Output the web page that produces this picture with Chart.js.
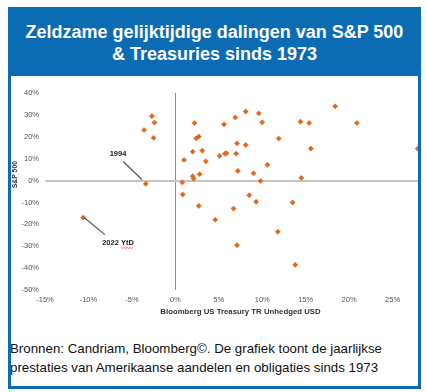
<!DOCTYPE html>
<html>
<head>
<meta charset="utf-8">
<script src="https://cdn.jsdelivr.net/npm/chart.js@4"></script>
<style>
  body { margin: 0; background: #fff; font-family: Arial, "Liberation Sans", sans-serif; }
  #card {
    position: absolute; left: 8px; top: 7px; width: 413px; height: 382px;
    box-sizing: border-box; border: 3px solid #0b6cb3; overflow: hidden; background: #fff;
  }
  #title {
    height: 66px; box-sizing: border-box; padding-top: 11px; background: #0b6cb3;
    color: #fff; font-weight: bold; font-size: 18px; line-height: 22px; text-align: center;
  }
  #chart { position: absolute; left: 0; top: 66px; }
  #source {
    position: absolute; left: -1px; top: 329px; color: #111;
    font-size: 13.3px; line-height: 19px; white-space: nowrap;
  }
</style>
</head>
<body>
<div id="card">
  <div id="title">Zeldzame gelijktijdige dalingen van S&amp;P 500<br>&amp; Treasuries sinds 1973</div>
  <canvas id="chart" width="430" height="245"></canvas>
  <div id="source">Bronnen: Candriam, Bloomberg©. De grafiek toont de jaarlijkse<br>prestaties van Amerikaanse aandelen en obligaties sinds 1973</div>
</div>
<script>
// --- Data (annual returns, %) ---
const treasuryReturns = [
  -2.7, -2.4, -3.6, -2.5, -3.4, 2.2, 2.4, 2.7, 1.0, 2.0,
  3.1, 3.5, 0.8, 0.85, 2.0, 2.1, 2.8, 2.7, 5.6, 6.9,
  8.1, 9.6, 10.0, 11.9, 14.4, 15.4, 15.6, 18.4, 20.9, 27.9,
  5.1, 5.7, 5.9, 7.0, 7.1, 8.1, 10.6, 7.2, 9.0, 9.8,
  14.5, 8.5, 9.3, 13.5, 6.7, -10.6, 4.6, 11.8, 7.1, 13.8
];
const sp500Returns = [
  29.4, 26.5, 23.1, 19.5, -1.5, 26.3, 19.3, 20.1, 9.4, 13.2,
  13.7, 8.8, -0.8, -6.4, 2.0, 0.9, 2.9, -11.6, 25.7, 28.8,
  31.5, 30.7, 26.6, 19.2, 26.9, 26.3, 14.6, 33.9, 26.3, 14.6,
  11.3, 12.3, 12.5, 12.3, 17.0, 16.3, 7.2, 4.4, 3.3, -0.2,
  1.2, -6.7, -9.7, -10.0, -12.8, -16.9, -17.9, -23.4, -29.5, -38.5
];
const xTicks = [-15, -10, -5, 0, 5, 10, 15, 20, 25, 30];
const yTicks = [40, 30, 20, 10, 0, -10, -20, -30, -40, -50];
const yTitle = 'S&P 500';
const yTitleAt = 2.7; // value the vertical axis title is centred on

// callouts: label text, label position, leader line (data coordinates)
const callouts = [
  { text: '1994', at: [-6.6, 12.3], from: [-6.0, 8.7], to: [-3.85, 0.5], squiggle: false },
  { text: '2022 YtD', at: [-6.6, -28.3], from: [-10.5, -16.9], to: [-8.1, -24.7], squiggle: true }
];

const BLUE = '#0b6cb3';
const ORANGE = '#e2671d';
const points = treasuryReturns.map((x, i) => ({ x: x, y: sp500Returns[i] }));

// --- Callouts + y title plugin ---
const calloutPlugin = {
  id: 'callouts',
  afterDatasetsDraw(chart) {
    const { ctx, scales: { x, y } } = chart;
    ctx.save();
    callouts.forEach(c => {
      ctx.strokeStyle = '#555';
      ctx.lineWidth = 1.2;
      ctx.beginPath();
      ctx.moveTo(x.getPixelForValue(c.from[0]), y.getPixelForValue(c.from[1]));
      ctx.lineTo(x.getPixelForValue(c.to[0]), y.getPixelForValue(c.to[1]));
      ctx.stroke();

      ctx.font = 'bold 7.5px Arial';
      ctx.fillStyle = '#222';
      ctx.textAlign = 'center';
      ctx.textBaseline = 'middle';
      const tx = x.getPixelForValue(c.at[0]);
      const ty = y.getPixelForValue(c.at[1]);
      ctx.fillText(c.text, tx, ty);

      if (c.squiggle) {
        const full = ctx.measureText(c.text).width;
        const word = ctx.measureText('YtD').width;
        const x1 = tx + full / 2;
        const x0 = x1 - word;
        ctx.strokeStyle = '#e03030';
        ctx.lineWidth = 0.7;
        ctx.beginPath();
        for (let px = x0, k = 0; px <= x1; px += 1.5, k++) {
          const py = ty + 5 + (k % 2 ? 0.9 : 0);
          if (k === 0) ctx.moveTo(px, py); else ctx.lineTo(px, py);
        }
        ctx.stroke();
      }
    });

    // vertical axis title, drawn by hand so it sits where the original has it
    ctx.translate(y.left + 4, y.getPixelForValue(yTitleAt));
    ctx.rotate(-Math.PI / 2);
    ctx.font = 'bold 6.8px Arial';
    ctx.fillStyle = '#333';
    ctx.textAlign = 'center';
    ctx.textBaseline = 'middle';
    ctx.fillText(yTitle, 0, 0);
    ctx.restore();
  }
};

new Chart(document.getElementById('chart'), {
  type: 'scatter',
  data: {
    datasets: [{
      data: points,
      pointStyle: 'rectRot',
      pointRadius: 2.6,
      pointBackgroundColor: ORANGE,
      pointBorderColor: ORANGE,
      pointBorderWidth: 0.5
    }]
  },
  options: {
    responsive: false,
    animation: false,
    layout: { padding: { top: 17, right: 0, bottom: 0, left: 0 } },
    plugins: { legend: { display: false }, tooltip: { enabled: false } },
    scales: {
      x: {
        type: 'linear',
        min: xTicks[0], max: xTicks[xTicks.length - 1],
        afterBuildTicks: s => { s.ticks = xTicks.map(v => ({ value: v })); },
        afterFit: s => { s.height = 31; },
        border: { display: false },
        grid: {
          drawTicks: false,
          color: c => c.tick && c.tick.value === 0 ? '#8c8c8c' : 'rgba(0,0,0,0)',
          lineWidth: 1
        },
        ticks: {
          padding: 5,
          color: '#555',
          font: { family: 'Arial', size: 7.5 },
          callback: v => v === 30 ? '' : v + '%'
        },
        title: {
          display: true,
          text: 'Bloomberg US Treasury TR Unhedged USD',
          color: '#333',
          font: { family: 'Arial', size: 7.8, weight: 'bold' },
          padding: { top: 0, bottom: 4 }
        }
      },
      y: {
        type: 'linear',
        min: yTicks[yTicks.length - 1], max: yTicks[0],
        afterBuildTicks: s => { s.ticks = yTicks.slice().reverse().map(v => ({ value: v })); },
        afterFit: s => { s.width = 34; },
        border: { display: false },
        grid: {
          drawTicks: false,
          color: c => c.tick && c.tick.value === 0 ? '#c4c4c4' : 'rgba(0,0,0,0)',
          lineWidth: 2
        },
        ticks: {
          padding: 6,
          color: '#555',
          font: { family: 'Arial', size: 7.5 },
          callback: v => v + '%'
        },
        title: { display: false }
      }
    }
  },
  plugins: [calloutPlugin]
});
</script>
</body>
</html>
